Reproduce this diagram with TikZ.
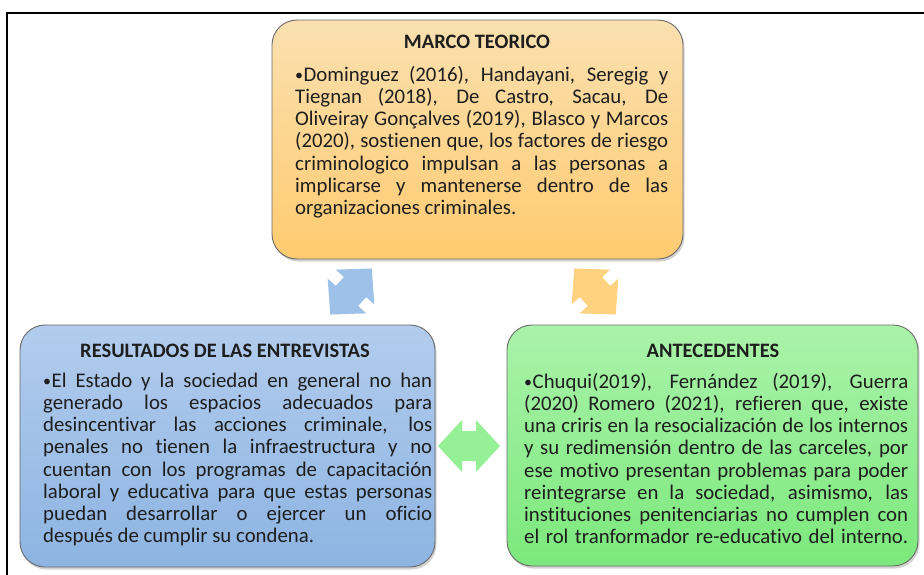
\documentclass[tikz,border=0pt]{standalone}
\usepackage{fontspec}
\setmainfont[Ligatures=NoCommon]{Carlito}
\usetikzlibrary{shadows}
\definecolor{orTop}{RGB}{250,224,176}
\definecolor{orBot}{RGB}{255,203,112}
\definecolor{blTop}{RGB}{178,204,237}
\definecolor{blBot}{RGB}{141,180,226}
\definecolor{grTop}{RGB}{170,243,170}
\definecolor{grBot}{RGB}{124,232,124}
\definecolor{edgeC}{RGB}{105,105,105}
\definecolor{txtC}{RGB}{30,30,30}
\definecolor{blArrow}{RGB}{158,193,234}
\definecolor{orArrow}{RGB}{255,210,128}
\definecolor{grArrow}{RGB}{150,240,150}
\newcommand\strutx{\vrule height16.2pt depth6pt width0pt\relax}
\newcommand\jl[2]{\hbox to #1{\strutx #2}}
\newcommand\lastl[1]{\hbox{\strutx #1}}
\newcommand\bul{\raisebox{1.2pt}{\fontsize{16}{16}\selectfont •}\kern0.5pt}
\begin{document}
\begin{tikzpicture}[x=1pt,y=-1pt,
  box/.style={draw=edgeC, line width=0.9pt, rounded corners=25pt, inner sep=0pt,
    drop shadow={opacity=0.35, shadow xshift=1.5pt, shadow yshift=-2.5pt}},
  ttl/.style={font=\bfseries\fontsize{20.5}{22.2}\selectfont, text=txtC, anchor=base, inner sep=0pt},
  body/.style={font=\fontsize{20.8}{22.2}\selectfont, text=txtC, anchor=north west, inner sep=0pt}
]
\useasboundingbox (0,0) rectangle (924,574);
\fill[white] (0,0) rectangle (924,574);
% frame
\draw[line width=2pt, line cap=rect] (6.7,575) -- (6.7,12.8) -- (925,12.8);

% boxes
\node[box, top color=orTop, bottom color=orBot, minimum width=411pt, minimum height=239pt] (marco) at (477.5,139.5) {};
\node[box, top color=blTop, bottom color=blBot, minimum width=415pt, minimum height=242pt] (result) at (227.5,446) {};
\node[box, top color=grTop, bottom color=grBot, minimum width=411pt, minimum height=241pt] (antec) at (712.5,445.5) {};

% titles
\node[ttl] (marcoT) at (477,48) {MARCO TEORICO};
\node[ttl] (resultT) at (225,357) {RESULTADOS DE LAS ENTREVISTAS};
\node[ttl] (antecT) at (713,357) {ANTECEDENTES};

% bodies
\node[body] (marcoB) at (295,64.8) {\vbox{\baselineskip=22.2pt\lineskiplimit=-20pt
  \jl{373pt}{\bul Dominguez (2016), Handayani, Seregig y}
  \jl{373pt}{Tiegnan (2018), De Castro, Sacau, De}
  \jl{373pt}{Oliveiray Gonçalves (2019), Blasco y Marcos}
  \jl{373pt}{(2020), sostienen que, los factores de riesgo}
  \jl{373pt}{criminologico impulsan a las personas a}
  \jl{373pt}{implicarse y mantenerse dentro de las}
  \lastl{organizaciones criminales.}}};

\node[body] (resultB) at (43,370.8) {\vbox{\baselineskip=22.2pt\lineskiplimit=-20pt
  \jl{389pt}{\bul El Estado y la sociedad en general no han}
  \jl{389pt}{generado los espacios adecuados para}
  \jl{389pt}{desincentivar las acciones criminale, los}
  \jl{389pt}{penales no tienen la infraestructura y no}
  \jl{389pt}{cuentan con los programas de capacitación}
  \jl{389pt}{laboral y educativa para que estas personas}
  \jl{389pt}{puedan desarrollar o ejercer un oficio}
  \lastl{después de cumplir su condena.}}};

\node[body] (antecB) at (524,371.8) {\vbox{\baselineskip=22.2pt\lineskiplimit=-20pt
  \jl{384pt}{\bul Chuqui(2019), Fernández (2019), Guerra}
  \jl{384pt}{(2020) Romero (2021), refieren que, existe}
  \jl{384pt}{una criris en la resocialización de los internos}
  \jl{384pt}{y su redimensión dentro de las carceles, por}
  \jl{384pt}{ese motivo presentan problemas para poder}
  \jl{384pt}{reintegrarse en la sociedad, asimismo, las}
  \jl{384pt}{instituciones penitenciarias no cumplen con}
  \jl{384pt}{el rol tranformador re-educativo del interno.}}};

% double arrows
\begin{scope}[shift={(351,291.5)}, rotate=48]
\fill[blArrow] (-31pt,0pt) -- (-6pt,26pt) -- (-6pt,15pt) -- (6pt,15pt) -- (6pt,26pt) -- (31pt,0pt)
  -- (6pt,-26pt) -- (6pt,-15pt) -- (-6pt,-15pt) -- (-6pt,-26pt) -- cycle;
\end{scope}
\begin{scope}[shift={(595,291.5)}, rotate=-48]
\fill[orArrow] (-31pt,0pt) -- (-6pt,26pt) -- (-6pt,15pt) -- (6pt,15pt) -- (6pt,26pt) -- (31pt,0pt)
  -- (6pt,-26pt) -- (6pt,-15pt) -- (-6pt,-15pt) -- (-6pt,-26pt) -- cycle;
\end{scope}
\fill[grArrow] (438,446) -- (462,420) -- (462,431) -- (476,431) -- (476,420) -- (500,446)
  -- (476,472) -- (476,461) -- (462,461) -- (462,472) -- cycle;
\end{tikzpicture}
\end{document}
